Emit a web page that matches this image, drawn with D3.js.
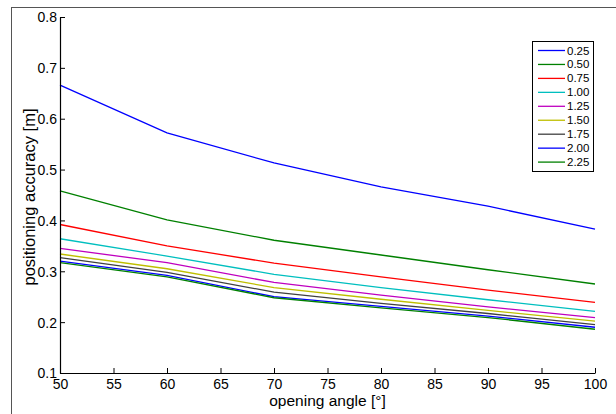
<!DOCTYPE html>
<meta charset="utf-8">
<head>
  <title>Positioning accuracy</title>
</head>
<style>
  body { margin: 0; background: #fff; }
  text { font-family: "Liberation Sans", Arial, sans-serif; }
</style>
<body>
<div id="chart"></div>
<script src="https://d3js.org/d3.v7.min.js"></script>
<script>
// opening angles [deg]
var angles = [50, 60, 70, 80, 90, 100];
var seriesNames = ["0.25", "0.50", "0.75", "1.00", "1.25", "1.50", "1.75", "2.00", "2.25"];
var acc025 = [0.666, 0.572, 0.513, 0.466, 0.428, 0.383];
var acc050 = [0.458, 0.401, 0.361, 0.332, 0.303, 0.275];
var acc075 = [0.392, 0.350, 0.316, 0.289, 0.263, 0.239];
var acc100 = [0.364, 0.330, 0.294, 0.268, 0.244, 0.221];
var acc125 = [0.345, 0.317, 0.278, 0.253, 0.230, 0.209];
var acc150 = [0.334, 0.305, 0.268, 0.245, 0.223, 0.202];
var acc175 = [0.327, 0.298, 0.259, 0.237, 0.217, 0.195];
var acc200 = [0.320, 0.292, 0.250, 0.231, 0.212, 0.190];
var acc225 = [0.317, 0.289, 0.248, 0.228, 0.209, 0.186];
var xTicks = [50, 55, 60, 65, 70, 75, 80, 85, 90, 95, 100];
var yTicks = [0.1, 0.2, 0.3, 0.4, 0.5, 0.6, 0.7, 0.8];
var colors = ["#0000ff", "#008000", "#ff0000", "#00bfbf", "#bf00bf", "#bfbf00", "#404040", "#0000ff", "#008000"];

var allSeries = [acc025, acc050, acc075, acc100, acc125, acc150, acc175, acc200, acc225];

var W = 616, H = 414;
var margin = {top: 17, right: 21, bottom: 41, left: 60},
    width = W - margin.left - margin.right,
    height = H - margin.top - margin.bottom;

var svg = d3.select("#chart").append("svg")
    .attr("width", W).attr("height", H);

// outer figure frame
svg.append("rect")
    .attr("x", 11.5).attr("y", 7.5)
    .attr("width", 620).attr("height", 420)
    .attr("fill", "none").attr("stroke", "#555").attr("stroke-width", 1);

var g = svg.append("g")
    .attr("transform", "translate(" + margin.left + "," + margin.top + ")");

var x = d3.scaleLinear().domain([50, 100]).range([0, width]);
var y = d3.scaleLinear().domain([0.1, 0.8]).range([height, 0]);

// lines
var line = d3.line()
    .x(function(d, i) { return x(angles[i]); })
    .y(function(d) { return y(d); });

g.selectAll(".series")
    .data(allSeries)
    .enter().append("path")
      .attr("class", "series")
      .attr("d", line)
      .attr("fill", "none")
      .attr("stroke", function(d, i) { return colors[i]; })
      .attr("stroke-width", 1.3);

// axes (ticks point inward, MATLAB style)
var xAxis = g.append("g")
    .attr("transform", "translate(0," + height + ")")
    .call(d3.axisBottom(x).tickValues(xTicks).tickSize(-5).tickSizeOuter(0).tickPadding(5)
      .tickFormat(d3.format("d")));
var yAxis = g.append("g")
    .call(d3.axisLeft(y).tickValues(yTicks).tickSize(-5).tickSizeOuter(0).tickPadding(3)
      .tickFormat(d3.format(".1f")));

[xAxis, yAxis].forEach(function(a) {
  a.select(".domain").attr("stroke", "#000").attr("stroke-width", 1.2);
  a.selectAll(".tick line").attr("stroke", "#000");
  a.selectAll(".tick text").attr("fill", "#000")
    .style("font-family", "'Liberation Sans', Arial, sans-serif")
    .style("font-size", "14px");
});
xAxis.selectAll(".tick text").attr("dy", "0.8em");
yAxis.selectAll(".tick text").attr("dy", "0.35em");

// axis labels
g.append("text")
    .attr("x", width / 2).attr("y", height + 33)
    .attr("text-anchor", "middle")
    .style("font-size", "15.5px")
    .text("opening angle [°]");
g.append("text")
    .attr("transform", "translate(-25," + (height / 2 + 2) + ") rotate(-90)")
    .attr("text-anchor", "middle")
    .style("font-size", "16.5px")
    .text("positioning accuracy [m]");

// legend
var legend = svg.append("g").attr("transform", "translate(532,41)");
legend.append("rect")
    .attr("x", 0.5).attr("y", 0.5)
    .attr("width", 61).attr("height", 130)
    .attr("fill", "#fff").attr("stroke", "#000").attr("stroke-width", 1);
var items = legend.selectAll(".item")
    .data(seriesNames)
    .enter().append("g")
      .attr("transform", function(d, i) { return "translate(0," + (9.5 + i * 13.95) + ")"; });
items.append("line")
    .attr("x1", 6).attr("x2", 33)
    .attr("stroke", function(d, i) { return colors[i]; })
    .attr("stroke-width", 1.3);
items.append("text")
    .attr("x", 35).attr("dy", "0.35em")
    .style("font-size", "11.5px")
    .text(function(d) { return d; });
</script>
</body>
</html>
